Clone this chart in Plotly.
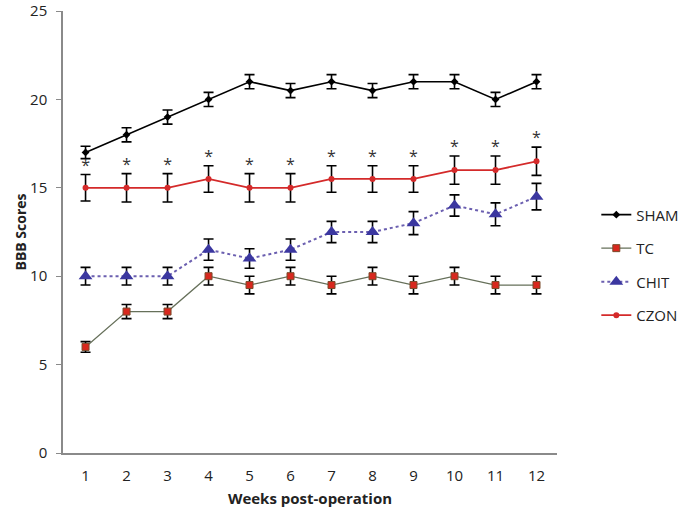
import plotly.graph_objects as go

weeks = [1, 2, 3, 4, 5, 6, 7, 8, 9, 10, 11, 12]
tick_labels = [str(w) for w in weeks]

sham = [17, 18, 19, 20, 21, 20.5, 21, 20.5, 21, 21, 20, 21]
sham_err = [0.35, 0.4, 0.4, 0.4, 0.4, 0.4, 0.4, 0.4, 0.4, 0.4, 0.4, 0.4]

tc = [6, 8, 8, 10, 9.5, 10, 9.5, 10, 9.5, 10, 9.5, 9.5]
tc_err = [0.3, 0.4, 0.4, 0.5, 0.5, 0.5, 0.5, 0.5, 0.5, 0.5, 0.5, 0.5]

chit = [10, 10, 10, 11.5, 11, 11.5, 12.5, 12.5, 13, 14, 13.5, 14.5]
chit_err = [0.5, 0.5, 0.5, 0.6, 0.55, 0.6, 0.6, 0.6, 0.65, 0.6, 0.65, 0.75]

czon = [15, 15, 15, 15.5, 15, 15, 15.5, 15.5, 15.5, 16, 16, 16.5]
czon_err = [0.75, 0.8, 0.8, 0.75, 0.8, 0.8, 0.75, 0.75, 0.75, 0.8, 0.8, 0.8]

sig_marks = ["*"] * 12

FONT = "Open Sans, Noto Sans, DejaVu Sans, sans-serif"

def err(arr):
    return dict(type="data", array=arr, visible=True, color="black",
                thickness=1.6, width=5)

fig = go.Figure()

fig.add_trace(go.Scatter(
    x=weeks, y=sham, name="SHAM", mode="lines+markers", legendgroup="a",
    line=dict(color="black", width=1.6),
    marker=dict(symbol="diamond", size=6, color="black"),
    error_y=err(sham_err)))

fig.add_trace(go.Scatter(
    x=weeks, y=tc, name="TC", mode="lines+markers", legendgroup="b",
    line=dict(color="#66705a", width=1.3),
    marker=dict(symbol="square", size=7, color="#d8281e",
                line=dict(color="#7a4a2a", width=1)),
    error_y=err(tc_err)))

fig.add_trace(go.Scatter(
    x=weeks, y=chit, name="CHIT", mode="lines+markers", legendgroup="c",
    line=dict(color="#6b5fb0", width=2, dash="dot"),
    marker=dict(symbol="triangle-up", size=12, color="#3b37a0"),
    error_y=err(chit_err)))

fig.add_trace(go.Scatter(
    x=weeks, y=czon, name="CZON", mode="lines+markers", legendgroup="d",
    line=dict(color="#d42a2a", width=1.8),
    marker=dict(symbol="circle", size=6, color="#d42a2a"),
    error_y=err(czon_err)))

fig.add_trace(go.Scatter(
    x=weeks, y=[v + e + 0.45 for v, e in zip(czon, czon_err)],
    mode="text", text=sig_marks, showlegend=False, hoverinfo="skip",
    textfont=dict(family=FONT, size=16, color="#333")))

fig.update_layout(
    width=687, height=516,
    margin=dict(l=63, r=130, t=11, b=63),
    paper_bgcolor="white", plot_bgcolor="white",
    font=dict(family=FONT, color="#222"),
    legend=dict(xref="container", yref="container",
                x=0.868, y=0.6155, xanchor="left", yanchor="top",
                font=dict(family=FONT, size=15, color="#222"),
                traceorder="grouped", tracegroupgap=11,
                bgcolor="rgba(0,0,0,0)"),
    xaxis=dict(range=[0.45, 12.5], tickmode="array", tickvals=weeks,
               ticktext=tick_labels, showgrid=False, zeroline=False,
               automargin=False, ticklabelstandoff=8,
               showline=True, linecolor="#8a8a8a", linewidth=1.5,
               ticks="", tickfont=dict(size=15, color="#222"),
               title=dict(text="<b>Weeks post-operation</b>",
                          font=dict(size=15, color="#222"), standoff=10)),
    yaxis=dict(range=[0, 25], tickvals=[0, 5, 10, 15, 20, 25],
               showgrid=False, zeroline=False, showline=True,
               automargin=False, ticklabelstandoff=6,
               linecolor="#8a8a8a", linewidth=1.5, ticks="outside",
               ticklen=5, tickcolor="#8a8a8a",
               tickfont=dict(size=15, color="#222"),
               title=dict(text="<b>BBB Scores</b>",
                          font=dict(size=14, color="#222"), standoff=0)),
)

fig.write_html("out.html", config={"displayModeBar": False},
               post_script="document.body.style.margin='0px';")
